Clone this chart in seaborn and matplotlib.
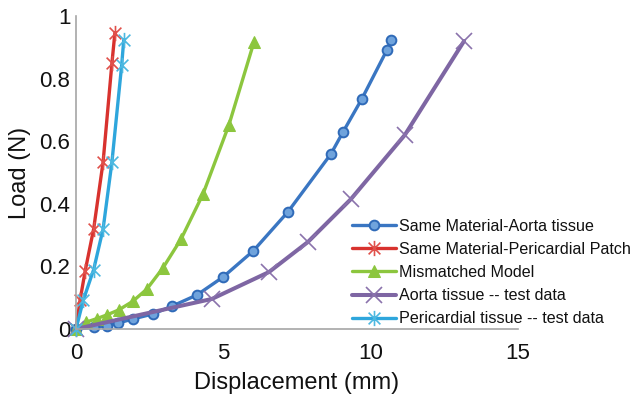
import numpy as np
import pandas as pd
import matplotlib
matplotlib.use("Agg")
import matplotlib.pyplot as plt
from matplotlib.path import Path
import seaborn as sns

# ---- data ----
aorta_model_x = [0, 0.6, 1.05, 1.43, 1.93, 2.61, 3.26, 4.11, 4.99, 6.01, 7.19, 8.65, 9.06, 9.70, 10.55, 10.69]
aorta_model_y = [0, 0.005, 0.010, 0.019, 0.032, 0.048, 0.073, 0.109, 0.166, 0.249, 0.374, 0.559, 0.629, 0.735, 0.891, 0.923]

peri_model_x = [0, 0.14, 0.31, 0.60, 0.92, 1.22, 1.32]
peri_model_y = [0, 0.093, 0.185, 0.320, 0.534, 0.850, 0.946]

mismatch_x = [0, 0.35, 0.70, 1.05, 1.45, 1.92, 2.40, 2.95, 3.57, 4.31, 5.19, 6.04]
mismatch_y = [0, 0.022, 0.033, 0.045, 0.061, 0.088, 0.127, 0.195, 0.288, 0.431, 0.652, 0.917]

aorta_test_x = [0, 4.61, 6.55, 7.87, 9.33, 11.16, 13.17]
aorta_test_y = [0, 0.096, 0.182, 0.278, 0.415, 0.620, 0.920]

peri_test_x = [0, 0.25, 0.60, 0.92, 1.22, 1.55, 1.62]
peri_test_y = [0, 0.093, 0.190, 0.320, 0.534, 0.843, 0.923]

labels = ["Same Material-Aorta tissue",
          "Same Material-Pericardial Patch",
          "Mismatched Model",
          "Aorta tissue -- test data",
          "Pericardial tissue -- test data"]
x_ticks = [0, 5, 10, 15]
y_ticks = [0, 0.2, 0.4, 0.6, 0.8, 1.0]
y_tick_labels = ["0", "0.2", "0.4", "0.6", "0.8", "1"]

# ---- style ----
sns.set_style("white")
plt.rcParams['font.family'] = ['Liberation Sans', 'DejaVu Sans']

# asterisk marker (x plus vertical bar), like Excel's star marker
star = Path([(-1, -1), (1, 1), (-1, 1), (1, -1), (0, -1.3), (0, 1.3)],
            [Path.MOVETO, Path.LINETO, Path.MOVETO, Path.LINETO, Path.MOVETO, Path.LINETO])

fig = plt.figure(figsize=(6.36, 3.95), dpi=100)
ax = fig.add_axes([76 / 636, 1 - 329 / 395, (518 - 76) / 636, (329 - 16) / 395])

series = [
    (aorta_model_x, aorta_model_y, labels[0], dict(color="#3a76c2", marker="o", markersize=7,
                                                   markerfacecolor="#6fa3dc", markeredgecolor="#2f6ab8",
                                                   markeredgewidth=1.4, linewidth=2.4)),
    (peri_model_x, peri_model_y, labels[1], dict(color="#d8322e", marker=star, markersize=11,
                                                 markeredgecolor="#e0504a", markeredgewidth=1.2,
                                                 linewidth=2.4)),
    (mismatch_x, mismatch_y, labels[2], dict(color="#8cc63e", marker="^", markersize=9,
                                             markerfacecolor="#8cc63e", markeredgecolor="#8cc63e",
                                             linewidth=2.4)),
    (aorta_test_x, aorta_test_y, labels[3], dict(color="#7e66a3", marker="x", markersize=11,
                                                 markeredgecolor="#8a72ac", markeredgewidth=1.2,
                                                 linewidth=2.9)),
    (peri_test_x, peri_test_y, labels[4], dict(color="#2ea6dc", marker=star, markersize=11,
                                               markeredgecolor="#4cb8e0", markeredgewidth=1.2,
                                               linewidth=2.4)),
]

for xs, ys, lab, kw in series:
    df = pd.DataFrame({"x": xs, "y": ys})
    sns.lineplot(data=df, x="x", y="y", ax=ax, sort=False, label=lab,
                 clip_on=False, **kw)

ax.set_xlim(0, 15)
ax.set_ylim(0, 1)
ax.set_xticks(x_ticks)
ax.set_xticklabels([str(t) for t in x_ticks])
ax.set_yticks(y_ticks)
ax.set_yticklabels(y_tick_labels)
ax.set_xlabel("Displacement (mm)", fontsize=17, color="#111111", labelpad=6)
ax.set_ylabel("Load (N)", fontsize=17, color="#111111", labelpad=6)

for s in ["top", "right"]:
    ax.spines[s].set_visible(False)
for s in ["left", "bottom"]:
    ax.spines[s].set_color("#a6a6a6")
    ax.spines[s].set_linewidth(1.2)
ax.tick_params(axis="both", direction="out", length=5, width=1.2, color="#a6a6a6",
               labelsize=16, labelcolor="#111111")
ax.tick_params(axis="y", pad=-1)
ax.tick_params(axis="x", pad=5)

leg = ax.legend(loc="upper left", bbox_to_anchor=(352 / 636, 1 - 219 / 395),
                bbox_transform=fig.transFigure, frameon=False, fontsize=11.6,
                handlelength=2.7, handletextpad=0.2, labelspacing=0.5, borderpad=0,
                borderaxespad=0)
for t in leg.get_texts():
    t.set_color("#111111")

fig.savefig("out.png", dpi=100)
